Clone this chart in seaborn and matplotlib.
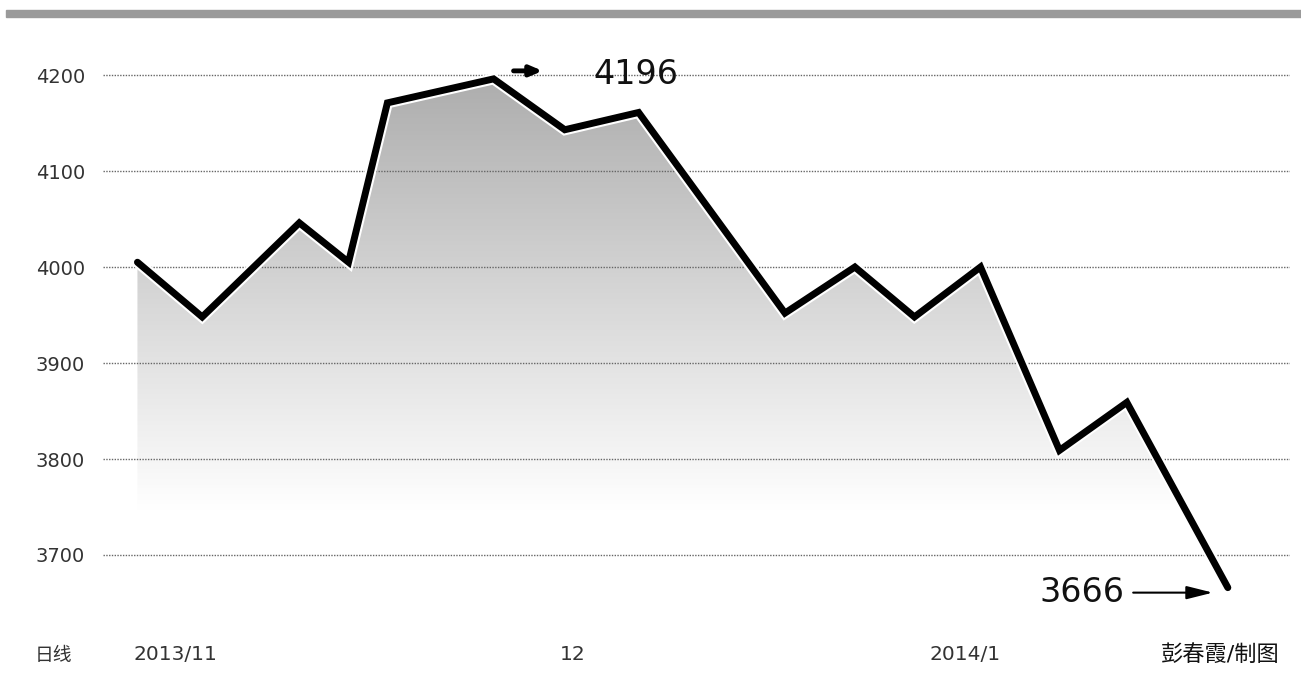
import matplotlib.pyplot as plt
import matplotlib.patheffects as pe
import numpy as np
import seaborn as sns
from matplotlib.colors import LinearSegmentedColormap
from matplotlib.patches import Polygon, Rectangle
from matplotlib.transforms import offset_copy

# daily index (day 0 = 2013/11/1)
days = [-2.9, 2.1, 9.6, 13.4, 16.4, 24.6, 30.1, 35.8, 47.1, 52.5, 57.1, 62.2,
        68.3, 73.5, 81.3]
close = [4005, 3948, 4046, 4005, 4171, 4196, 4143, 4161, 3952, 4000, 3948,
         4000, 3809, 3859, 3666]
yticks = [3700, 3800, 3900, 4000, 4100, 4200]
xtick_pos = [0, 30.7, 61]
xtick_labels = ['2013/11', '12', '2014/1']

# style
sns.set_style('white')
plt.rcParams['font.family'] = ['DejaVu Sans', 'Noto Sans CJK SC']

fig = plt.figure(figsize=(13.01, 6.73), dpi=100)
ax = fig.add_axes([103 / 1301, 63 / 673, 1187 / 1301, 570 / 673])
ymin, ymax = 3642.7, 4236.5
xmin, xmax = -5.56, 86.1
ax.set_xlim(xmin, xmax)
ax.set_ylim(ymin, ymax)

# gradient fill under the line
grad = np.linspace(ymin, ymax, 300).reshape(-1, 1)
cmap = LinearSegmentedColormap.from_list('fade', ['#ffffff', '#adadad'])
im = ax.imshow(grad, extent=[xmin, xmax, ymin, ymax], origin='lower',
               aspect='auto', cmap=cmap, vmin=3745, vmax=4200, zorder=1)
verts = [(days[0], ymin)] + list(zip(days, close)) + [(days[-1], ymin)]
clip = Polygon(verts, transform=ax.transData, facecolor='none',
               edgecolor='none')
ax.add_patch(clip)
im.set_clip_path(clip)

# index line
sns.lineplot(x=days, y=close, ax=ax, color='black', linewidth=5, zorder=3,
             solid_joinstyle='miter')
ax.lines[-1].set_path_effects([pe.Stroke(linewidth=8, foreground='white'),
                               pe.Normal()])

# grid and ticks
ax.set_yticks(yticks)
ax.set_axisbelow('line')
ax.grid(axis='y', linestyle=(0, (1, 1)), color='#666666', linewidth=1)
ax.tick_params(axis='y', length=0, pad=13, labelsize=14, labelcolor='#333333')
ax.set_xticks(xtick_pos)
ax.set_xticklabels(xtick_labels)
ax.tick_params(axis='x', length=0, pad=25, labelsize=14.5, labelcolor='#333333')
sns.despine(ax=ax, left=True, bottom=True)

# peak annotation
i_max = int(np.argmax(close))
ax.annotate('', xy=(days[i_max], close[i_max]),
            xycoords=offset_copy(ax.transData, fig=fig, x=49, y=8, units='dots'),
            xytext=(days[i_max], close[i_max]),
            textcoords=offset_copy(ax.transData, fig=fig, x=20, y=8,
                                   units='dots'),
            arrowprops=dict(arrowstyle='-|>,head_length=0.35,head_width=0.15',
                            color='black', lw=3.5, shrinkA=0, shrinkB=0,
                            mutation_scale=20))
ax.annotate(str(close[i_max]), xy=(days[i_max], close[i_max]),
            xytext=(142, 4), textcoords='offset pixels', ha='center',
            va='center', fontsize=24, color='#111111')

# last value annotation
ax.annotate(str(close[-1]), xy=(days[-1], close[-1]),
            xycoords=offset_copy(ax.transData, fig=fig, x=-15, y=-5,
                                 units='dots'),
            xytext=(-131, 0), textcoords='offset pixels', ha='center',
            va='center', fontsize=24, color='#111111',
            arrowprops=dict(arrowstyle='-|>,head_length=0.8,head_width=0.2',
                            color='black', lw=1.5, shrinkA=4, shrinkB=0,
                            mutation_scale=20))

# top bar and footer texts
fig.patches.append(Rectangle((6 / 1301, 656 / 673), 1, 7 / 673,
                             transform=fig.transFigure, color='#9a9a9a'))
fig.text(35 / 1301, 1 - 655 / 673, '日线', fontsize=13.5, color='#333333',
         va='center', ha='left')
fig.text(1280 / 1301, 1 - 655 / 673, '彭春霞/制图', fontsize=16,
         color='#111111', va='center', ha='right')

fig.savefig('out.png', dpi=100, facecolor='white')
